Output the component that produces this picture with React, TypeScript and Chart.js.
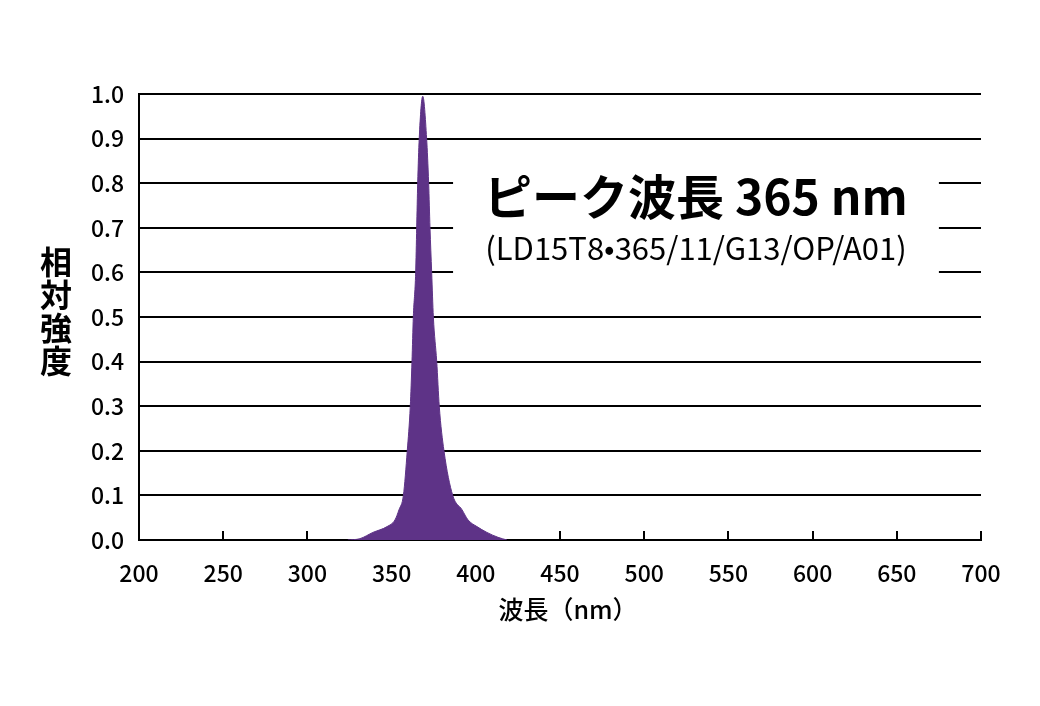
import React, { useEffect, useRef } from "react";
import { Chart, registerables } from "chart.js";

Chart.register(...registerables);

// ---- data ----
const wavelengths = [
  324, 331.2, 338.9, 347.3, 352.0, 354.4, 357.0, 359.3, 361.1, 362.1, 362.9,
  364.3, 364.9, 365.5, 366.4, 368.5, 370.8, 372.0, 372.8, 373.8, 374.8, 376.8, 378.3,
  381.1, 386.3, 391.8, 395.4, 400.7, 406.6, 413.2, 418.5,
];
const intensities = [
  0, 0.003, 0.017, 0.03, 0.045, 0.068, 0.1, 0.2, 0.3, 0.4, 0.5,
  0.6, 0.7, 0.8, 0.9, 0.995, 0.9, 0.8, 0.7, 0.6, 0.5, 0.4, 0.3,
  0.2, 0.1, 0.068, 0.045, 0.03, 0.017, 0.006, 0,
];
const xTicks = [200, 250, 300, 350, 400, 450, 500, 550, 600, 650, 700];
const yTicks = [0, 0.1, 0.2, 0.3, 0.4, 0.5, 0.6, 0.7, 0.8, 0.9, 1.0];

const titleText = "ピーク波長 365 nm";
const subtitleText = "(LD15T8•365/11/G13/OP/A01)";
const yTitleChars = ["相", "対", "強", "度"];
const xTitleText = "波長（nm）";

const FONT = "'Noto Sans CJK JP', 'Noto Sans', sans-serif";
const PURPLE = "#5e3387";

const textPlugin = {
  id: "textPlugin",
  afterDraw(chart: any) {
    const ctx = chart.ctx as CanvasRenderingContext2D;
    const xs = chart.scales.x;
    const ys = chart.scales.y;
    const area = chart.chartArea;
    ctx.save();
    // white label box (in data units)
    const bx1 = xs.getPixelForValue(386.5);
    const bx2 = xs.getPixelForValue(675);
    const by1 = ys.getPixelForValue(0.852);
    const by2 = ys.getPixelForValue(0.55);
    ctx.fillStyle = "#ffffff";
    ctx.fillRect(bx1, by1, bx2 - bx1, by2 - by1);

    const cx = (bx1 + bx2) / 2;
    ctx.fillStyle = "#000000";
    ctx.textAlign = "center";
    ctx.textBaseline = "middle";
    ctx.font = `bold 48px ${FONT}`;
    ctx.fillText(titleText, cx, ys.getPixelForValue(0.77));
    ctx.font = `31px ${FONT}`;
    ctx.fillText(subtitleText, cx, ys.getPixelForValue(0.655));

    // y axis title, stacked vertically
    ctx.font = `bold 32px ${FONT}`;
    yTitleChars.forEach((ch, i) => {
      ctx.fillText(ch, area.left - 83, 262 + i * 33);
    });

    // x axis title
    ctx.font = `500 25px ${FONT}`;
    ctx.fillText(xTitleText, (area.left + area.right) / 2 + 8, area.bottom + 69);
    ctx.restore();
  },
};

export default function App() {
  const canvasRef = useRef<HTMLCanvasElement | null>(null);

  useEffect(() => {
    if (!canvasRef.current) return;
    const chart = new Chart(canvasRef.current, {
      type: "line",
      data: {
        datasets: [
          {
            data: wavelengths.map((w, i) => ({ x: w, y: intensities[i] })),
            backgroundColor: PURPLE,
            borderColor: PURPLE,
            borderWidth: 1,
            fill: "origin",
            pointRadius: 0,
            cubicInterpolationMode: "monotone",
          },
        ],
      },
      options: {
        animation: false,
        responsive: true,
        maintainAspectRatio: false,
        layout: { padding: { left: 0, right: 59, top: 94, bottom: 0 } },
        plugins: {
          legend: { display: false },
          tooltip: { enabled: false },
          title: { display: false },
        },
        scales: {
          x: {
            type: "linear",
            min: 200,
            max: 700,
            z: 1,
            afterFit: (s: any) => {
              s.height = 166;
            },
            afterBuildTicks: (s: any) => {
              s.ticks = xTicks.map((v) => ({ value: v }));
            },
            grid: {
              drawOnChartArea: false,
              drawTicks: true,
              tickLength: -9,
              color: "#000",
              lineWidth: 2,
            },
            border: { display: true, color: "#000", width: 2 },
            ticks: {
              color: "#000",
              padding: 28,
              maxRotation: 0,
              font: { family: FONT, size: 23, weight: 500 },
              callback: (v: any) => String(v),
            },
          },
          y: {
            type: "linear",
            min: 0,
            max: 1,
            afterFit: (s: any) => {
              s.width = 139;
            },
            afterBuildTicks: (s: any) => {
              s.ticks = yTicks.map((v) => ({ value: v }));
            },
            grid: {
              drawTicks: false,
              color: "#000",
              lineWidth: 2,
            },
            border: { display: true, color: "#000", width: 2 },
            ticks: {
              color: "#000",
              padding: 15,
              font: { family: FONT, size: 23, weight: 500 },
              callback: (v: any) => Number(v).toFixed(1),
            },
          },
        },
      },
      plugins: [textPlugin],
    });
    return () => chart.destroy();
  }, []);

  return (
    <div
      style={{
        position: "absolute",
        left: 0,
        top: 0,
        width: 1040,
        height: 706,
        background: "#fff",
      }}
    >
      <canvas ref={canvasRef} />
    </div>
  );
}
